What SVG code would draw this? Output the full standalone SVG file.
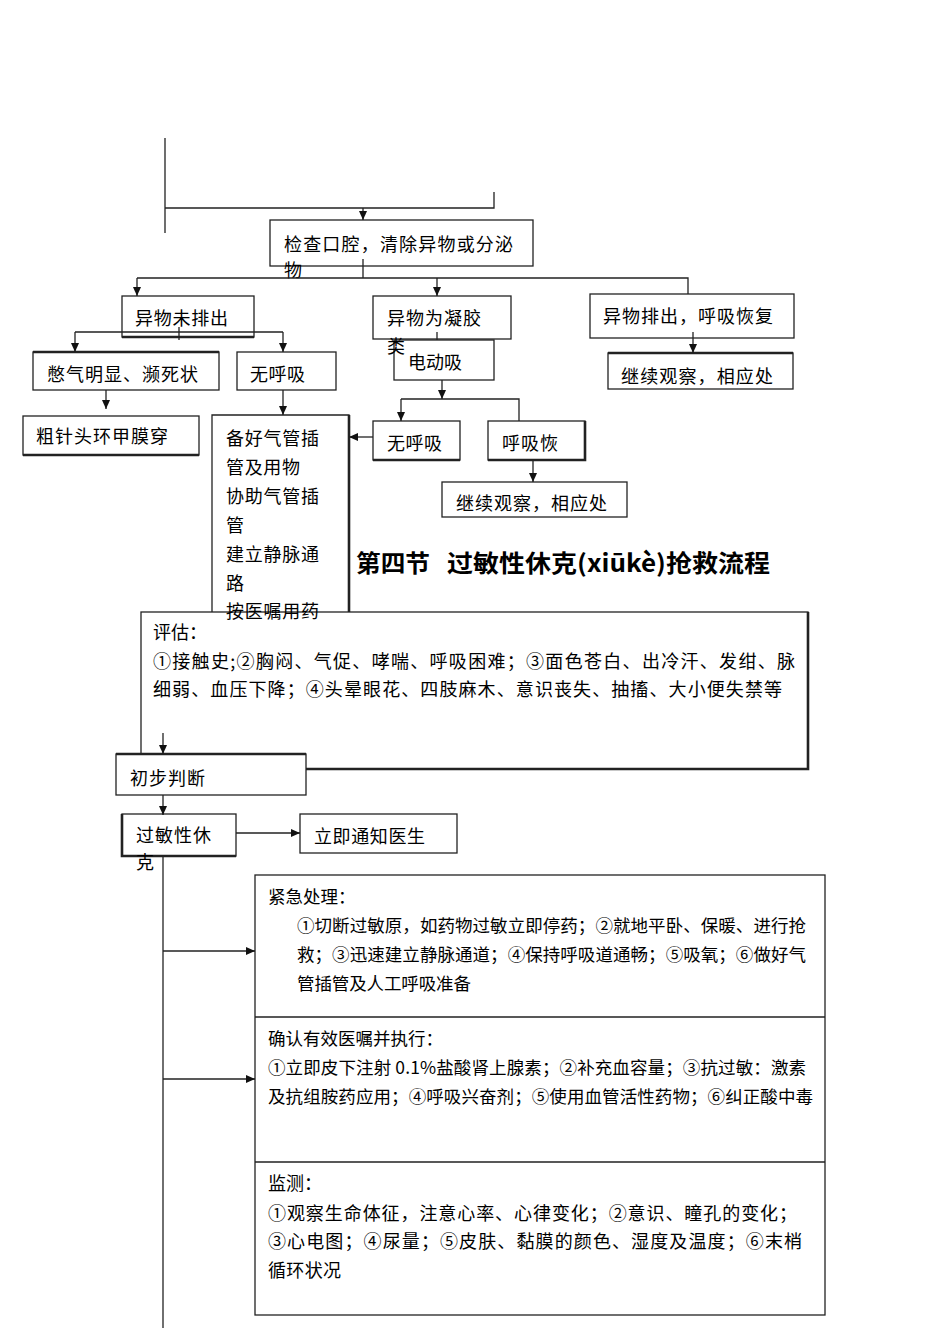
<svg xmlns="http://www.w3.org/2000/svg" width="950" height="1344" viewBox="0 0 950 1344">
<style>
.t{font-family:"Noto Sans CJK SC","Noto Sans",sans-serif;font-size:18px;fill:#000}
.s{font-size:17.5px}
.b{fill:#fff;stroke:#222;stroke-width:1.3}
.k{fill:none;stroke:#222;stroke-width:2.6}
.c{fill:none;stroke:#222;stroke-width:1.3}
.h{font-family:"Noto Sans CJK SC","Noto Sans",sans-serif;font-size:24px;font-weight:bold;fill:#000}
</style>
<defs>
<marker id="a" viewBox="0 0 10 10" refX="10" refY="5" markerWidth="9" markerHeight="8" orient="auto" markerUnits="userSpaceOnUse" preserveAspectRatio="none">
<path d="M0,0 L10,5 L0,10 z" fill="#111"/>
</marker>
</defs>

<g id="n_check"><rect class="b" x="270" y="220" width="263" height="46"/>
<text class="t" x="284" y="251" textLength="229">检查口腔，清除异物或分泌</text>
<text class="t" x="284" y="277">物</text></g>

<g id="n_notout"><rect class="b" x="122" y="296" width="132" height="41"/><path class="k" d="M122,337 H254"/>
<text class="t" x="135" y="325" textLength="93">异物未排出</text></g>

<g id="n_gel"><rect class="b" x="373" y="296" width="138" height="43"/>
<text class="t" x="387" y="325" textLength="94">异物为凝胶</text></g>

<g id="n_out"><rect class="b" x="590" y="294" width="204" height="44"/>
<text class="t" x="603" y="323" textLength="170">异物排出，呼吸恢复</text></g>

<g id="n_suction"><rect class="b" x="394" y="340" width="100" height="40"/>
<text class="t" x="408" y="369" textLength="54">电动吸</text></g>

<g id="n_gel_text2"><text class="t" x="387" y="353">类</text></g>

<g id="n_obs1"><rect class="b" x="608" y="353" width="185" height="36"/><path class="k" d="M608,353 H793"/>
<text class="t" x="621" y="383" textLength="152">继续观察，相应处</text></g>

<g id="n_breath"><rect class="b" x="33" y="352" width="186" height="38"/><path class="k" d="M33,352 H219"/>
<text class="t" x="47" y="381" textLength="151">憋气明显、濒死状</text></g>

<g id="n_nobreath1"><rect class="b" x="237" y="352" width="99" height="38"/>
<text class="t" x="250" y="381" textLength="55">无呼吸</text></g>

<g id="n_needle"><rect class="b" x="23" y="416" width="176" height="39"/><path class="k" d="M23,455 H199"/>
<text class="t" x="36" y="443" textLength="132">粗针头环甲膜穿</text></g>

<g id="n_prep"><path class="c" d="M212,612 V415 H349 V612"/><path class="k" d="M349,415 V612"/>
<text class="t" x="226" y="445" textLength="93">备好气管插</text>
<text class="t" x="226" y="474" textLength="74">管及用物</text>
<text class="t" x="226" y="503" textLength="93">协助气管插</text>
<text class="t" x="226" y="532">管</text>
<text class="t" x="226" y="561" textLength="93">建立静脉通</text>
<text class="t" x="226" y="590">路</text></g>

<g id="n_nobreath2"><rect class="b" x="373" y="421" width="87" height="39"/><path class="k" d="M373,460 H460"/>
<text class="t" x="387" y="450" textLength="55">无呼吸</text></g>

<g id="n_recover"><rect class="b" x="488" y="421" width="97" height="39"/><path class="k" d="M488,460 H585 V421"/>
<text class="t" x="502" y="450" textLength="56">呼吸恢</text></g>

<g id="n_obs2"><rect class="b" x="442" y="482" width="185" height="35"/>
<text class="t" x="456" y="510" textLength="151">继续观察，相应处</text></g>

<g id="title"><text class="h" x="356" y="572" textLength="74" lengthAdjust="spacingAndGlyphs">第四节</text>
<text class="h" x="447" y="572" textLength="323" lengthAdjust="spacingAndGlyphs">过敏性休克(xiūkè)抢救流程</text></g>

<g id="n_assess"><rect class="b" x="141" y="612" width="667" height="157"/><path class="k" d="M808,612 V769 H141"/>
<text class="t" x="153" y="639">评估：</text>
<text class="t" x="153" y="668" textLength="642">①接触史;②胸闷、气促、哮喘、呼吸困难；③面色苍白、出冷汗、发绀、脉</text>
<text class="t" x="153" y="696" textLength="629">细弱、血压下降；④头晕眼花、四肢麻木、意识丧失、抽搐、大小便失禁等</text></g>

<g id="n_prep_last"><text class="t" x="226" y="618" textLength="93">按医嘱用药</text></g>

<g id="n_judge"><rect class="b" x="116" y="754" width="190" height="41"/><path class="k" d="M116,754 H306"/>
<text class="t" x="130" y="785" textLength="75">初步判断</text></g>

<g id="n_shock"><rect class="b" x="122" y="814" width="114" height="42"/><path class="k" d="M122,814 V856 H236"/>
<text class="t" x="136" y="842" textLength="75">过敏性休</text>
<text class="t" x="136" y="869">克</text></g>

<g id="n_notify"><rect class="b" x="300" y="814" width="157" height="39"/>
<text class="t" x="314" y="843" textLength="111">立即通知医生</text></g>

<g id="n_actions"><rect class="b" x="255" y="875" width="570" height="440"/>
<path class="c" d="M255,1017 H825 M255,1162 H825"/>
<text class="t s" x="268" y="903">紧急处理：</text>
<text class="t s" x="297" y="932" textLength="509">①切断过敏原，如药物过敏立即停药；②就地平卧、保暖、进行抢</text>
<text class="t s" x="297" y="961" textLength="509">救；③迅速建立静脉通道；④保持呼吸道通畅；⑤吸氧；⑥做好气</text>
<text class="t s" x="297" y="990" textLength="174">管插管及人工呼吸准备</text>
<text class="t s" x="268" y="1045">确认有效医嘱并执行：</text>
<text class="t s" x="268" y="1074" textLength="538">①立即皮下注射 0.1%盐酸肾上腺素；②补充血容量；③抗过敏：激素</text>
<text class="t s" x="268" y="1103" textLength="545">及抗组胺药应用；④呼吸兴奋剂；⑤使用血管活性药物；⑥纠正酸中毒</text>
<text class="t" x="268" y="1190">监测：</text>
<text class="t" x="268" y="1220" textLength="529">①观察生命体征，注意心率、心律变化；②意识、瞳孔的变化；</text>
<text class="t" x="268" y="1248" textLength="534">③心电图；④尿量；⑤皮肤、黏膜的颜色、湿度及温度；⑥末梢</text>
<text class="t" x="268" y="1277" textLength="73">循环状况</text></g>

<g id="connectors">
<path class="c" d="M165,138 V233 M165,208 H494 V192"/>
<path class="c" d="M363,208 V220" marker-end="url(#a)"/>
<path class="c" d="M363,259 V278 M137,278 H688 V294"/>
<path class="c" d="M137,278 V296" marker-end="url(#a)"/>
<path class="c" d="M437,278 V296" marker-end="url(#a)"/>
<path class="c" d="M179,327 V340 M75,332 H283"/>
<path class="c" d="M75,332 V352" marker-end="url(#a)"/>
<path class="c" d="M283,332 V352" marker-end="url(#a)"/>
<path class="c" d="M106,390 V409" marker-end="url(#a)"/>
<path class="c" d="M283,390 V415" marker-end="url(#a)"/>
<path class="c" d="M437,332 V340"/>
<path class="c" d="M693,332 V353" marker-end="url(#a)"/>
<path class="c" d="M442,380 V399" marker-end="url(#a)"/>
<path class="c" d="M401,399 H519 V421"/>
<path class="c" d="M401,399 V421" marker-end="url(#a)"/>
<path class="c" d="M373,437 H349" marker-end="url(#a)"/>
<path class="c" d="M533,460 V482" marker-end="url(#a)"/>
<path class="c" d="M163,733 V754" marker-end="url(#a)"/>
<path class="c" d="M163,795 V815" marker-end="url(#a)"/>
<path class="c" d="M236,833 H300" marker-end="url(#a)"/>
<path class="c" d="M163,856 V1328"/>
<path class="c" d="M163,951 H255" marker-end="url(#a)"/>
<path class="c" d="M163,1079 H255" marker-end="url(#a)"/>
</g>
</svg>
